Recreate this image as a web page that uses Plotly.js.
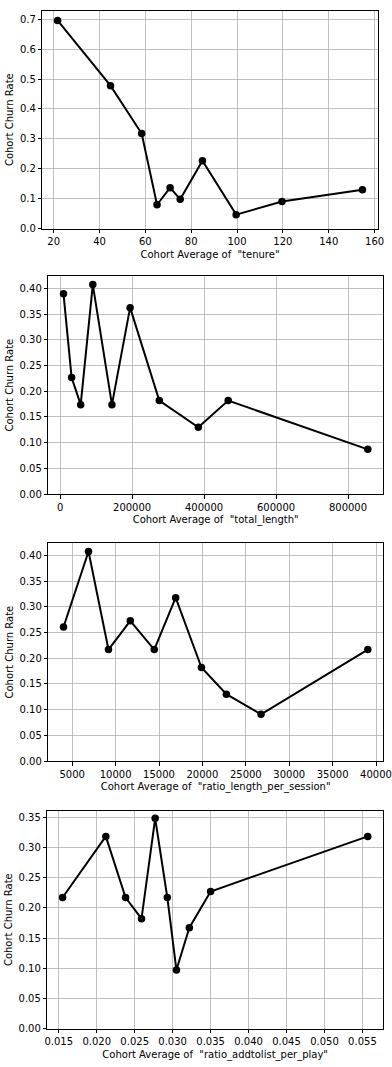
<!DOCTYPE html>
<html>
<head>
<meta charset="utf-8">
<script src="https://cdn.plot.ly/plotly-3.0.1.min.js"></script>
<style>
  html, body { margin: 0; padding: 0; background: #fff; }
  #chart { width: 392px; height: 1067px; }
</style>
</head>
<body>
<div id="chart"></div>
<script>
// ---- Data ----
const featureNames = ["tenure", "total_length", "ratio_length_per_session", "ratio_addtolist_per_play"];

const tenureX = [21.7, 44.8, 58.4, 65.1, 70.8, 75.2, 84.9, 99.6, 119.6, 154.7];
const tenureY = [0.696, 0.478, 0.318, 0.080, 0.137, 0.098, 0.227, 0.047, 0.091, 0.130];

const totalLengthX = [9300, 31800, 57000, 90700, 143900, 194400, 275500, 384000, 467000, 855000];
const totalLengthY = [0.390, 0.227, 0.174, 0.408, 0.174, 0.363, 0.182, 0.130, 0.182, 0.087];

const ratioLengthX = [4000, 6880, 9180, 11690, 14450, 16920, 19890, 22760, 26750, 39050];
const ratioLengthY = [0.261, 0.408, 0.217, 0.273, 0.217, 0.318, 0.182, 0.130, 0.091, 0.217];

const addToListX = [0.0155, 0.0212, 0.0238, 0.0259, 0.0277, 0.0293, 0.0305, 0.0322, 0.0350, 0.0557];
const addToListY = [0.217, 0.318, 0.217, 0.182, 0.348, 0.217, 0.097, 0.167, 0.227, 0.318];

const yTickFormats = [".1f", ".2f", ".2f", ".2f"];
const xTickFormats = ["d", "d", "d", ".3f"];
const xTickSteps = [20, 200000, 5000, 0.005];
const yTickSteps = [0.1, 0.05, 0.05, 0.05];

// ---- Layout geometry (pixel boxes of each axes) ----
const W = 392, H = 1067;
const boxes = [
  {l: 42.3, r: 377.7, t: 10.7, b: 228.7},
  {l: 48.3, r: 383.0, t: 276.3, b: 494.0},
  {l: 48.3, r: 383.0, t: 543.3, b: 761.0},
  {l: 47.3, r: 383.0, t: 810.7, b: 1028.7}
];

const series = [
  [tenureX, tenureY],
  [totalLengthX, totalLengthY],
  [ratioLengthX, ratioLengthY],
  [addToListX, addToListY]
];

const font = {family: "DejaVu Sans, sans-serif", size: 10, color: "#000"};
const traces = [];
const layout = {
  width: W, height: H,
  margin: {l: 0, r: 0, t: 0, b: 0},
  paper_bgcolor: "#fff",
  plot_bgcolor: "#fff",
  showlegend: false,
  font: font
};

function padRange(arr) {
  const mn = Math.min(...arr), mx = Math.max(...arr);
  const s = mx - mn;
  return [mn - 0.05 * s, mx + 0.05 * s];
}

series.forEach((s, i) => {
  const n = i === 0 ? "" : String(i + 1);
  traces.push({
    x: s[0], y: s[1],
    xaxis: "x" + n, yaxis: "y" + n,
    type: "scatter", mode: "lines+markers",
    line: {color: "#000", width: 2},
    marker: {color: "#000", size: 7.5},
    hoverinfo: "x+y"
  });
  const b = boxes[i];
  const yr = padRange(s[1]);
  const common = {
    showline: true, mirror: true, linecolor: "#000", linewidth: 1,
    showgrid: true, gridcolor: "#b0b0b0", gridwidth: 0.8,
    zeroline: false,
    ticks: "outside", ticklen: 3.5, tickwidth: 1, tickcolor: "#000",
    tickfont: font, automargin: false
  };
  layout["xaxis" + n] = Object.assign({}, common, {
    domain: [b.l / W, b.r / W],
    anchor: "y" + n,
    range: padRange(s[0]),
    tickmode: "linear", tick0: 0, dtick: xTickSteps[i],
    tickformat: xTickFormats[i],
    title: {text: "Cohort Average of \u00a0\"" + featureNames[i] + "\"", font: font, standoff: 4}
  });
  layout["yaxis" + n] = Object.assign({}, common, {
    domain: [1 - b.b / H, 1 - b.t / H],
    anchor: "x" + n,
    range: [0, yr[1]],
    tickmode: "linear", tick0: 0, dtick: yTickSteps[i],
    tickformat: yTickFormats[i],
    title: {text: "Cohort Churn Rate", font: font, standoff: 4}
  });
});

Plotly.newPlot("chart", traces, layout, {displayModeBar: false, staticPlot: true});
</script>
</body>
</html>
